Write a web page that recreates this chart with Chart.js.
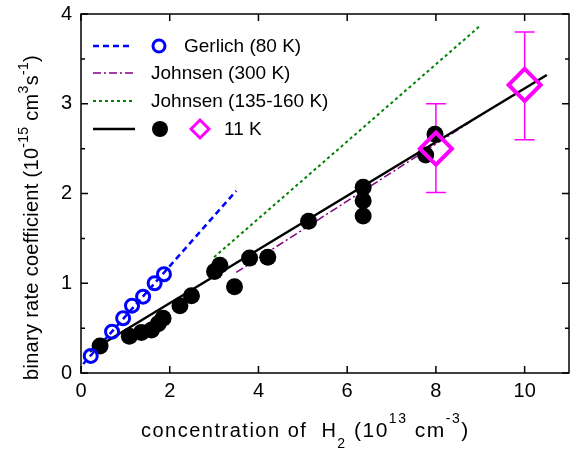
<!DOCTYPE html>
<html>
<head>
<meta charset="utf-8">
<script src="https://cdn.jsdelivr.net/npm/chart.js@4.4.1/dist/chart.umd.min.js"></script>
<style>
  body { margin: 0; background: #fff; overflow: hidden; }
  #wrap { width: 579px; height: 450px; }
</style>
</head>
<body>
<div id="wrap"><canvas id="myChart"></canvas></div>
<script>
// Gerlich (80 K) measured points
const gerlichX = [0.22, 0.70, 0.95, 1.15, 1.40, 1.66, 1.87];
const gerlichY = [0.19, 0.46, 0.61, 0.75, 0.85, 1.00, 1.10];

// 11 K points (filled circles)
const dotsX = [0.43, 1.09, 1.36, 1.59, 1.74, 1.85, 2.23, 2.49, 3.01, 3.13, 3.46, 3.80, 4.21, 5.13, 6.36, 6.36, 6.36, 7.98, 7.77];
const dotsY = [0.30, 0.41, 0.45, 0.48, 0.55, 0.61, 0.75, 0.86, 1.13, 1.20, 0.96, 1.28, 1.29, 1.69, 2.07, 1.92, 1.75, 2.66, 2.43];

// 11 K diamonds with error bars
const diamondX = [8, 10];
const diamondY = [2.50, 3.21];
const diamondLow = [2.01, 2.60];
const diamondHigh = [3.00, 3.80];

// lines
const gerlichLineX = [0.05, 3.5];
const gerlichLineY = [0.10, 2.03];
const johnsen300X = [3.5, 9.0];
const johnsen300Y = [1.12, 2.87];
const johnsen135X = [3.0, 9.0];
const johnsen135Y = [1.29, 3.87];
const fitX = [0.2, 10.5];
const fitY = [0.24, 3.32];

const xTicks = [0, 2, 4, 6, 8, 10];
const yTicks = [0, 1, 2, 3, 4];

const FONT = '"Liberation Sans", Arial, sans-serif';
const pts = (xs, ys) => xs.map((x, i) => ({ x: x, y: ys[i] }));

const DIAMOND_R = 16;

// text with sub/superscripts: parts = [[text, shift, size]]
function richText(ctx, parts, x, y) {
  let cx = x;
  parts.forEach(p => {
    ctx.font = p[2] + 'px ' + FONT;
    ctx.fillText(p[0], cx, y + p[1]);
    cx += ctx.measureText(p[0]).width;
  });
}

const extras = {
  id: 'extras',
  beforeDatasetsDraw(chart) {
    const ctx = chart.ctx;
    const xs = chart.scales.x, ys = chart.scales.y;
    ctx.save();
    ctx.strokeStyle = '#ff00ff';
    ctx.lineWidth = 1.5;
    diamondX.forEach((v, i) => {
      const px = xs.getPixelForValue(v);
      const py = ys.getPixelForValue(diamondY[i]);
      const top = ys.getPixelForValue(diamondHigh[i]);
      const bot = ys.getPixelForValue(diamondLow[i]);
      ctx.beginPath();
      ctx.moveTo(px, top); ctx.lineTo(px, py - DIAMOND_R);
      ctx.moveTo(px, py + DIAMOND_R); ctx.lineTo(px, bot);
      ctx.moveTo(px - 10, top); ctx.lineTo(px + 10, top);
      ctx.moveTo(px - 10, bot); ctx.lineTo(px + 10, bot);
      ctx.stroke();
    });
    ctx.restore();
  },
  afterDraw(chart) {
    const ctx = chart.ctx;
    const a = chart.chartArea;
    const xs = chart.scales.x, ys = chart.scales.y;
    ctx.save();
    // box
    ctx.strokeStyle = '#000';
    ctx.lineWidth = 1.5;
    ctx.strokeRect(a.left, a.top, a.right - a.left, a.bottom - a.top);
    // inward ticks
    ctx.beginPath();
    for (let v = 0; v <= 4; v += 0.5) {
      const py = ys.getPixelForValue(v);
      const len = Number.isInteger(v) ? 7 : 4;
      ctx.moveTo(a.left, py); ctx.lineTo(a.left + len, py);
      ctx.moveTo(a.right, py); ctx.lineTo(a.right - len, py);
    }
    xTicks.forEach(v => {
      const px = xs.getPixelForValue(v);
      ctx.moveTo(px, a.bottom); ctx.lineTo(px, a.bottom - 7);
      ctx.moveTo(px, a.top); ctx.lineTo(px, a.top + 7);
    });
    ctx.stroke();

    // axis titles
    ctx.fillStyle = '#000';
    ctx.textBaseline = 'alphabetic';
    ctx.letterSpacing = '1.5px';
    const xt = [['concentration of  H', 0, 20], ['2', 11, 14], [' (10', 0, 21], ['13', -14, 14],
                [' cm', 0, 21], ['-3', -14, 14], [')', 0, 21]];
    richText(ctx, xt, 141, 437);
    ctx.letterSpacing = '0.3px';

    const yt = [['binary rate coefficient (10', 0, 20], ['-15', -10, 14], [' cm', 0, 20], ['3', -10, 14],
                ['s', 0, 20], ['-1', -10, 14], [')', 0, 20]];
    ctx.save();
    ctx.translate(38, 380);
    ctx.rotate(-Math.PI / 2);
    richText(ctx, yt, 0, 0);
    ctx.restore();
    ctx.letterSpacing = '0px';

    // legend
    const rows = [46, 73, 101, 129];
    const lx0 = 93, lx1 = 133;
    ctx.font = '19px ' + FONT;
    ctx.textBaseline = 'middle';
    // Gerlich
    ctx.strokeStyle = '#0000ff'; ctx.lineWidth = 2.5; ctx.setLineDash([6, 4]);
    ctx.beginPath(); ctx.moveTo(lx0, rows[0]); ctx.lineTo(lx1, rows[0]); ctx.stroke();
    ctx.setLineDash([]); ctx.lineWidth = 3;
    ctx.beginPath(); ctx.arc(159, rows[0], 6, 0, Math.PI * 2); ctx.stroke();
    ctx.fillText('Gerlich (80 K)', 184, rows[0] + 1);
    // Johnsen 300
    ctx.strokeStyle = '#800080'; ctx.lineWidth = 1.5; ctx.setLineDash([8, 3, 2, 3]);
    ctx.beginPath(); ctx.moveTo(lx0, rows[1]); ctx.lineTo(lx1, rows[1]); ctx.stroke();
    ctx.fillText('Johnsen (300 K)', 151, rows[1] + 1);
    // Johnsen 135-160
    ctx.strokeStyle = '#008000'; ctx.lineWidth = 2; ctx.setLineDash([3, 3]);
    ctx.beginPath(); ctx.moveTo(lx0, rows[2]); ctx.lineTo(lx1, rows[2]); ctx.stroke();
    ctx.fillText('Johnsen (135-160 K)', 151, rows[2] + 1);
    // 11 K
    ctx.strokeStyle = '#000'; ctx.lineWidth = 2.5; ctx.setLineDash([]);
    ctx.beginPath(); ctx.moveTo(lx0, rows[3]); ctx.lineTo(lx1 + 2, rows[3]); ctx.stroke();
    ctx.beginPath(); ctx.arc(160, rows[3], 8, 0, Math.PI * 2); ctx.fill();
    ctx.strokeStyle = '#ff00ff'; ctx.lineWidth = 3;
    ctx.beginPath();
    ctx.moveTo(200 - 9, rows[3]); ctx.lineTo(200, rows[3] - 9);
    ctx.lineTo(200 + 9, rows[3]); ctx.lineTo(200, rows[3] + 9); ctx.closePath();
    ctx.stroke();
    ctx.fillText('11 K', 224, rows[3] + 1);
    ctx.restore();
  }
};

const ctx = document.getElementById('myChart').getContext('2d');
const myChart = new Chart(ctx, {
  type: 'scatter',
  data: {
    datasets: [
      {
        label: 'diamonds',
        data: pts(diamondX, diamondY),
        pointStyle: 'rectRot',
        pointRadius: DIAMOND_R,
        borderWidth: 4,
        borderColor: '#ff00ff',
        backgroundColor: 'rgba(0,0,0,0)',
        order: 1
      },
      {
        label: 'Gerlich points',
        data: pts(gerlichX, gerlichY),
        pointStyle: 'circle',
        pointRadius: 6.5,
        borderWidth: 3,
        borderColor: '#0000ff',
        backgroundColor: 'rgba(0,0,0,0)',
        order: 2
      },
      {
        label: '11 K points',
        data: pts(dotsX, dotsY),
        pointStyle: 'circle',
        pointRadius: 8.5,
        borderWidth: 0,
        backgroundColor: '#000',
        order: 3
      },
      {
        label: 'fit',
        type: 'line',
        data: pts(fitX, fitY),
        showLine: true, pointRadius: 0,
        borderColor: '#000', borderWidth: 2.5,
        order: 4
      },
      {
        label: 'Johnsen (300 K)',
        type: 'line',
        data: pts(johnsen300X, johnsen300Y),
        showLine: true, pointRadius: 0,
        borderColor: '#800080', borderWidth: 1.5,
        borderDash: [8, 3, 2, 3],
        order: 5
      },
      {
        label: 'Johnsen (135-160 K)',
        type: 'line',
        data: pts(johnsen135X, johnsen135Y),
        showLine: true, pointRadius: 0,
        borderColor: '#008000', borderWidth: 2,
        borderDash: [3, 3],
        order: 6
      },
      {
        label: 'Gerlich (80 K)',
        type: 'line',
        data: pts(gerlichLineX, gerlichLineY),
        showLine: true, pointRadius: 0,
        borderColor: '#0000ff', borderWidth: 2.5,
        borderDash: [6, 4],
        order: 7
      }
    ]
  },
  options: {
    responsive: true,
    maintainAspectRatio: false,
    animation: false,
    layout: { autoPadding: false, padding: { left: 0, right: 10, top: 14, bottom: 0 } },
    plugins: { legend: { display: false }, tooltip: { enabled: false } },
    scales: {
      x: {
        type: 'linear', min: 0, max: 11,
        afterFit: s => { s.height = 77; s.paddingLeft = 0; s.paddingRight = 0; },
        afterBuildTicks: s => { s.ticks = xTicks.map(v => ({ value: v })); },
        grid: { display: false, drawTicks: false },
        border: { display: false },
        ticks: { padding: 6, color: '#000', font: { family: FONT, size: 20 }, maxRotation: 0 }
      },
      y: {
        type: 'linear', min: 0, max: 4,
        afterFit: s => { s.width = 81; s.paddingTop = 0; s.paddingBottom = 0; },
        afterBuildTicks: s => { s.ticks = yTicks.map(v => ({ value: v })); },
        grid: { display: false, drawTicks: false },
        border: { display: false },
        ticks: { padding: 9, color: '#000', font: { family: FONT, size: 20 } }
      }
    }
  },
  plugins: [extras]
});
</script>
</body>
</html>
